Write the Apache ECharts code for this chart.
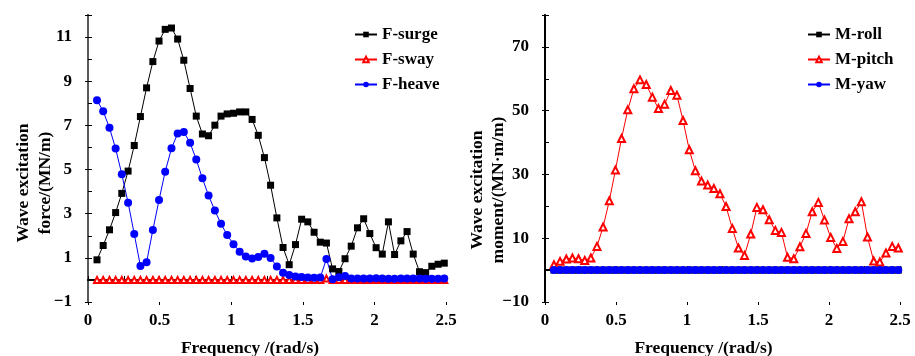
<!DOCTYPE html>
<html><head><meta charset="utf-8">
<script src="https://cdn.jsdelivr.net/npm/echarts@6/dist/echarts.min.js"></script>
<style>html,body{margin:0;padding:0;background:#fff}#c{width:915px;height:356px}</style>
</head><body><div id="c"></div>
<script>
const freq = [0.063,0.106,0.150,0.193,0.236,0.280,0.323,0.366,0.409,0.453,0.496,0.539,0.583,0.626,0.669,0.713,0.756,0.799,0.842,0.886,0.929,0.972,1.016,1.059,1.102,1.146,1.189,1.232,1.275,1.319,1.362,1.405,1.449,1.492,1.535,1.579,1.622,1.665,1.708,1.752,1.795,1.838,1.882,1.925,1.968,2.012,2.055,2.098,2.141,2.185,2.228,2.271,2.315,2.358,2.401,2.445,2.488];
const fSurge = [0.91,1.56,2.27,3.05,3.92,4.93,6.09,7.40,8.70,9.89,10.82,11.35,11.41,10.91,9.95,8.67,7.42,6.61,6.53,7.01,7.42,7.52,7.55,7.61,7.61,7.27,6.55,5.54,4.29,2.81,1.47,0.69,1.60,2.75,2.63,2.16,1.71,1.67,0.50,0.38,0.96,1.53,2.36,2.77,2.10,1.46,1.17,2.63,1.15,1.77,2.19,1.17,0.37,0.33,0.62,0.71,0.76];
const fSway = [0,0,0,0,0,0,0,0,0,0,0,0,0,0,0,0,0,0,0,0,0,0,0,0,0,0,0,0,0,0,0,0,0,0,0,0,0,0.06,0,0,0,0,0,0,0,0,0,0,0,0,0,0,0,0,0,0,0];
const fHeave = [8.14,7.64,6.89,5.95,4.79,3.50,2.08,0.63,0.80,2.26,3.62,4.90,5.96,6.63,6.70,6.21,5.45,4.60,3.82,3.14,2.54,2.03,1.62,1.28,1.06,0.97,1.04,1.18,0.99,0.61,0.33,0.22,0.16,0.13,0.11,0.10,0.11,0.95,0.03,0.12,0.18,0.06,0.06,0.07,0.07,0.08,0.06,0.05,0.05,0.06,0.06,0.07,0.06,0.05,0.05,0.05,0.06];
const mRoll = [0,0,0,0,0,0,0,0,0,0,0,0,0,0,0,0,0,0,0,0,0,0,0,0,0,0,0,0,0,0,0,0,0,0,0,0,0,0,0,0,0,0,0,0,0,0,0,0,0,0,0,0,0,0,0,0,0];
const mPitch = [1.70,2.74,3.47,3.79,3.58,3.05,3.79,7.44,13.50,21.75,31.36,41.28,50.26,56.84,59.66,58.20,54.23,50.68,52.04,56.32,54.86,46.92,37.73,31.15,27.91,26.66,25.61,23.94,19.97,13.08,6.92,4.62,11.31,19.66,18.93,15.80,12.45,11.83,4.00,3.58,7.34,11.51,18.30,21.23,15.69,10.26,6.81,9.01,16.11,18.30,21.44,10.37,2.85,2.53,5.35,7.44,6.92];
const mYaw = [0,0,0,0,0,0,0,0,0,0,0,0,0,0,0,0,0,0,0,0,0,0,0,0,0,0,0,0,0,0,0,0,0,0,0,0,0,0,0,0,0,0,0,0,0,0,0,0,0,0,0,0,0,0,0,0,0];
const leftYTicks = [-1,1,3,5,7,9,11];
const rightYTicks = [-10,10,30,50,70];
const xTicks = [0,0.5,1,1.5,2,2.5];
const leftNames = ['F-surge','F-sway','F-heave'];
const rightNames = ['M-roll','M-pitch','M-yaw'];

const FONT = 'Liberation Serif';
const lab = {fontFamily: FONT, fontWeight: 'bold', fontSize: 17, color: '#000'};
const NAMEFONT = 'bold 17.5px "Liberation Serif"';
const fmtNum = v => (v < 0 ? '\u2212' + Math.abs(v) : String(v));
const pairs = arr => freq.map((f, i) => [f, arr[i]]);

const L = {left: 88, top: 15, width: 358, height: 287};
const R = {left: 545, top: 15, width: 355, height: 287};

function gridSet(rect) { return [Object.assign({}, rect), Object.assign({}, rect), Object.assign({}, rect)]; }

const chart = echarts.init(document.getElementById('c'), null, {renderer: 'canvas'});

function xAxesFor(g) {
  return [
    {gridIndex: g, type: 'value', min: 0, max: 2.5, interval: 0.25, position: 'bottom',
     axisLine: {lineStyle: {color: '#000', width: 2}}, axisTick: {inside: true, length: 4, lineStyle: {color: '#000', width: 1}},
     axisLabel: {show: false}, splitLine: {show: false}},
    {gridIndex: g + 1, type: 'value', min: 0, max: 2.5, interval: 0.5, position: 'bottom',
     axisLine: {show: false}, axisTick: {inside: false, length: 3, lineStyle: {color: '#000', width: 1}},
     axisLabel: Object.assign({margin: 10, formatter: v => (xTicks.includes(v) ? String(v) : '')}, lab), splitLine: {show: false}},
    {gridIndex: g + 2, type: 'value', min: 0, max: 2.5, position: 'top',
     axisLine: {lineStyle: {color: '#000', width: 1}}, axisTick: {show: false}, axisLabel: {show: false}, splitLine: {show: false}}
  ];
}
function yAxesFor(g, min, max, minorInt, majInt, ticks, rightColor) {
  return [
    {gridIndex: g, type: 'value', min: min, max: max, interval: minorInt, position: 'left',
     axisLine: {lineStyle: {color: '#000', width: 2}}, axisTick: {inside: true, length: 4, lineStyle: {color: '#000', width: 1}},
     axisLabel: {show: false}, splitLine: {show: false}},
    {gridIndex: g + 1, type: 'value', min: 0, max: max - min, interval: majInt, position: 'left',
     axisLine: {show: false}, axisTick: {inside: false, length: 3, lineStyle: {color: '#000', width: 1}},
     axisLabel: Object.assign({margin: 16, formatter: v => (ticks.includes(v + min) ? fmtNum(v + min) : '')}, lab), splitLine: {show: false}},
    {gridIndex: g + 2, type: 'value', min: min, max: max, position: 'right',
     axisLine: {lineStyle: {color: rightColor, width: 1.5}}, axisTick: {show: false}, axisLabel: {show: false}, splitLine: {show: false}}
  ];
}

const option = {
  animation: false,
  backgroundColor: '#fff',
  textStyle: {fontFamily: FONT},
  grid: gridSet(L).concat(gridSet(R)),
  xAxis: xAxesFor(0).concat(xAxesFor(3)),
  yAxis: yAxesFor(0, -1, 12, 1, 2, leftYTicks, '#777').concat(yAxesFor(3, -10, 80, 10, 20, rightYTicks, '#000')),
  legend: [
    {data: leftNames, orient: 'vertical', left: 349, top: 21, itemWidth: 22, itemHeight: 7, itemGap: 8,
     textStyle: Object.assign({}, lab)},
    {data: rightNames, orient: 'vertical', left: 802, top: 21, itemWidth: 22, itemHeight: 7, itemGap: 8,
     textStyle: Object.assign({}, lab)}
  ],
  series: [
    {name: 'F-surge', type: 'line', xAxisIndex: 0, yAxisIndex: 0, data: pairs(fSurge), symbol: 'rect', symbolSize: 7,
     lineStyle: {color: '#000', width: 1}, itemStyle: {color: '#000'}},
    {name: 'F-sway', type: 'line', xAxisIndex: 0, yAxisIndex: 0, data: pairs(fSway), symbol: 'emptyTriangle', symbolSize: 6,
     lineStyle: {color: '#ff0000', width: 1}, itemStyle: {color: '#ff0000', borderWidth: 1}},
    {name: 'F-heave', type: 'line', xAxisIndex: 0, yAxisIndex: 0, data: pairs(fHeave), symbol: 'circle', symbolSize: 8,
     lineStyle: {color: '#0000ff', width: 1}, itemStyle: {color: '#0000ff'}},
    {name: 'M-roll', type: 'line', xAxisIndex: 3, yAxisIndex: 3, data: pairs(mRoll), symbol: 'rect', symbolSize: 7,
     lineStyle: {color: '#000', width: 1}, itemStyle: {color: '#000'}},
    {name: 'M-pitch', type: 'line', xAxisIndex: 3, yAxisIndex: 3, data: pairs(mPitch), symbol: 'emptyTriangle', symbolSize: 7,
     lineStyle: {color: '#ff0000', width: 1}, itemStyle: {color: '#ff0000', borderWidth: 1}},
    {name: 'M-yaw', type: 'line', xAxisIndex: 3, yAxisIndex: 3, data: pairs(mYaw), symbol: 'circle', symbolSize: 8,
     lineStyle: {color: '#0000ff', width: 1}, itemStyle: {color: '#0000ff'}}
  ],
  graphic: [
    {type: 'text', x: 34, y: 183, rotation: Math.PI / 2,
     style: {text: 'Wave excitation\nforce/(MN/m)', fill: '#000', font: NAMEFONT, align: 'center', verticalAlign: 'middle', lineHeight: 22}},
    {type: 'text', x: 250, y: 348,
     style: {text: 'Frequency /(rad/s)', fill: '#000', font: NAMEFONT, align: 'center', verticalAlign: 'middle'}},
    {type: 'text', x: 487.5, y: 190, rotation: Math.PI / 2,
     style: {text: 'Wave excitation\nmoment/(MN\u00b7m/m)', fill: '#000', font: NAMEFONT, align: 'center', verticalAlign: 'middle', lineHeight: 21}},
    {type: 'text', x: 703.5, y: 348,
     style: {text: 'Frequency /(rad/s)', fill: '#000', font: NAMEFONT, align: 'center', verticalAlign: 'middle'}}
  ]
};
chart.setOption(option);
</script>
</body></html>
